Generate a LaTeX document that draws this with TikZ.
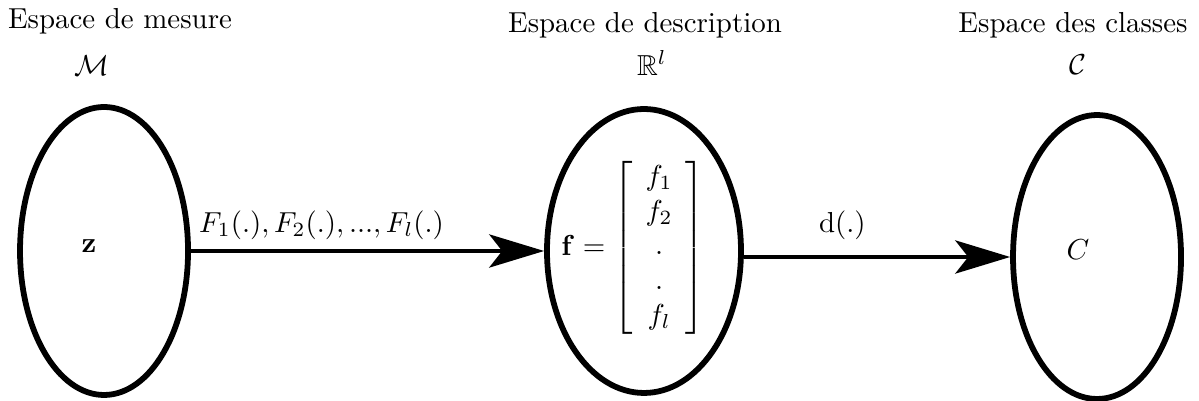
\documentclass[tikz,border=0pt]{standalone}
\usepackage{amsmath,amssymb}
\usetikzlibrary{shapes.geometric,arrows.meta}

\tikzset{
    space/.style={ellipse, draw, line width=2pt, inner sep=0pt},
    map/.style={-{Stealth[length=19pt, width=11.5pt, inset=4.5pt]}, line width=1.2pt}
}

\begin{document}
\begin{tikzpicture}
    \useasboundingbox (0,0) rectangle (14.58,4.864);

    % --- 1. Espaces ---
    \node[space, minimum width=2.043cm, minimum height=3.502cm] (mes) at (1.265,1.812) {};
    \node[space, minimum width=2.359cm, minimum height=3.453cm] (desc) at (7.831,1.812) {};
    \node[space, minimum width=2.043cm, minimum height=3.453cm] (cls) at (13.340,1.739) {};

    % --- 2. Titres et symboles ---
    \node (tmes) at (1.459,4.609) {Espace de mesure};
    \node (smes) at (1.119,4.061) {$\mathcal{M}$};
    \node (tdesc) at (7.843,4.560) {Espace de description};
    \node (sdesc) at (7.928,4.098) {$\mathbb{R}^l$};
    \node (tcls) at (13.048,4.560) {Espace des classes};
    \node (scls) at (13.108,4.074) {$\mathcal{C}$};

    % --- 3. Contenus ---
    \node (z) at (1.082,1.873) {$\mathbf{z}$};
    \node (fvec) at (7.70,1.848) {$\mathbf{f} = {\arraycolsep=4.5pt\left[\begin{array}{c} f_1\\ f_2\\ .\\ .\\ f_l \end{array}\right]}$};
    \node (C) at (13.108,1.824) {$C$};

    % --- 4. Applications ---
    \draw[map] (mes.east) -- (desc.west) node[pos=0.37, above] {$F_1(.), F_2(.), ..., F_l(.)$};
    \draw[map] (desc.east |- cls.west) -- (cls.west) node[pos=0.37, above=2pt] {$\mathrm{d}(.)$};
\end{tikzpicture}
\end{document}
